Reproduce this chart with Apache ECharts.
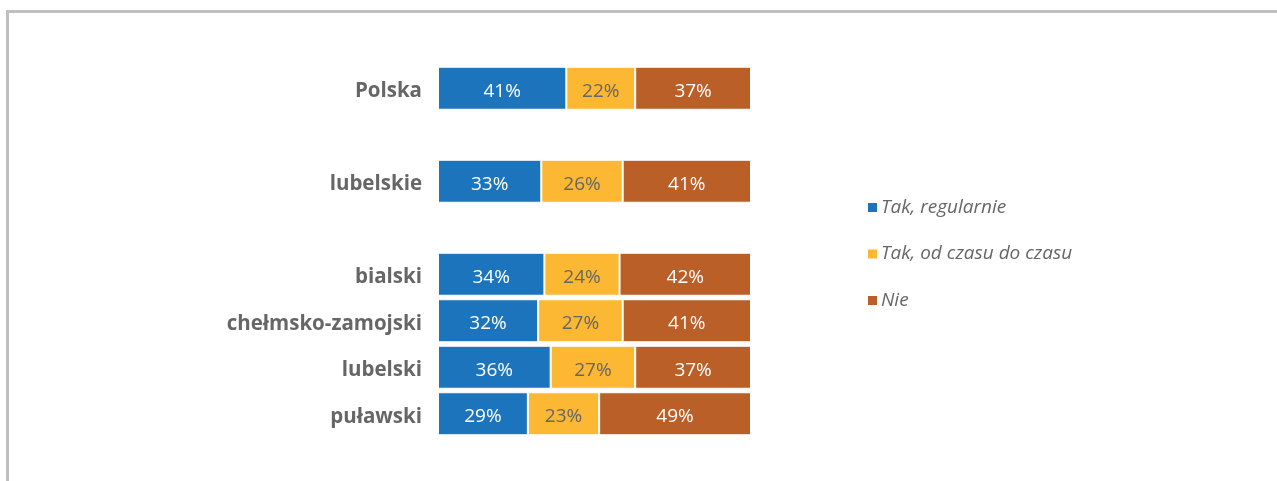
<!DOCTYPE html>
<html>
<head>
<meta charset="utf-8">
<script src="https://cdn.jsdelivr.net/npm/echarts@6/dist/echarts.min.js"></script>
<style>
html,body{margin:0;padding:0;background:#fff;}
#chart{width:1277px;height:481px;}
</style>
</head>
<body>
<div id="chart"></div>
<script>
const categories = ['Polska', '', 'lubelskie', '', 'bialski', 'chełmsko-zamojski', 'lubelski', 'puławski'];
const seriesNames = ['Tak, regularnie', 'Tak, od czasu do czasu', 'Nie'];
const regularnie = [41, null, 33, null, 34, 32, 36, 29];
const odCzasu = [22, null, 26, null, 24, 27, 27, 23];
const nie = [37, null, 41, null, 42, 41, 37, 49];

const raw = [regularnie, odCzasu, nie];
const colors = ['#1c75bc', '#fcb733', '#b95f27'];
const labelColors = ['#ffffff', '#666666', '#ffffff'];
const totals = categories.map((c, i) => raw.reduce((s, a) => s + (a[i] || 0), 0));

const chart = echarts.init(document.getElementById('chart'));
chart.setOption({
  animation: false,
  backgroundColor: '#ffffff',
  graphic: [
    { type: 'line', shape: { x1: 7.5, y1: 11.5, x2: 1277, y2: 11.5 }, style: { stroke: '#bfbfbf', lineWidth: 3 } },
    { type: 'line', shape: { x1: 7.5, y1: 10, x2: 7.5, y2: 481 }, style: { stroke: '#bfbfbf', lineWidth: 3 } }
  ],
  legend: {
    orient: 'vertical',
    left: 861,
    top: 192,
    icon: 'rect',
    itemWidth: 11,
    itemHeight: 11,
    itemGap: 25.5,
    data: seriesNames,
    textStyle: { fontFamily: 'Open Sans', fontStyle: 'italic', fontSize: 19, color: '#666666', lineHeight: 21, padding: [0, 0, 0, -2] }
  },
  grid: { left: 438, top: 65, width: 313, height: 372 },
  xAxis: {
    type: 'value', min: 0, max: 100,
    show: false
  },
  yAxis: {
    type: 'category',
    data: categories,
    inverse: true,
    axisLine: { show: false },
    axisTick: { show: false },
    axisLabel: {
      margin: 16,
      formatter: v => v ? '{c|' + v + '}' : '',
      rich: {
        c: { fontFamily: 'Open Sans', fontWeight: 'bold', fontSize: 20.5, color: '#666666', padding: [6, 0, 0, 0] }
      }
    }
  },
  series: raw.map((arr, k) => ({
    name: seriesNames[k],
    type: 'bar',
    stack: 'total',
    barWidth: 43,
    itemStyle: { color: colors[k], borderColor: '#ffffff', borderWidth: 1 },
    label: {
      show: true,
      position: 'inside',
      fontFamily: 'Open Sans',
      fontSize: 19,
      color: labelColors[k],
      offset: [0, 3],
      formatter: p => arr[p.dataIndex] + '%'
    },
    data: arr.map((v, i) => v == null ? null : v / totals[i] * 100)
  }))
});
</script>
</body>
</html>
